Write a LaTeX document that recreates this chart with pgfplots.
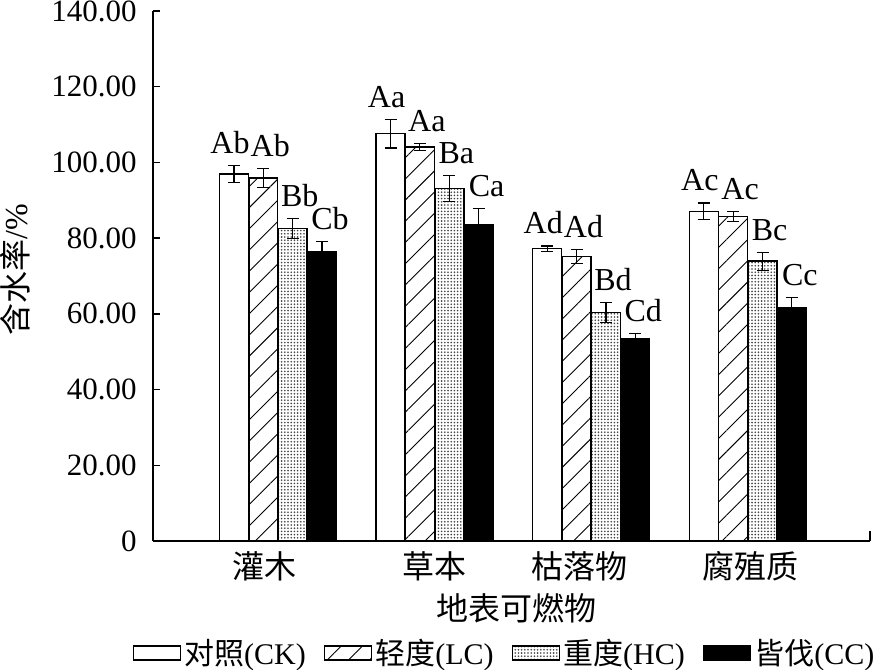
\documentclass[border=0pt]{standalone}
\usepackage{pgfplots}
\pgfplotsset{compat=1.18}
\usepackage{pgfplotstable}
\usetikzlibrary{patterns.meta}
\usepackage{fontspec}
\setmainfont{Liberation Serif}
\newfontfamily\cjk{Noto Sans CJK SC}
\newcommand\ff{\fontsize{16}{19}\selectfont}
\newcommand\tf{\fontsize{15.5}{18}\selectfont}
\newcommand\lf{\fontsize{15}{18}\selectfont}
\pgfplotsset{mylegend/.style={legend image code/.code={\draw[##1] (0pt,-3.5pt) rectangle (23.5pt,3.5pt);}}}

\pgfplotstableread{
x y err lab
0 96.9 2.3 Ab
1 107.6 3.8 Aa
2 77.2 0.75 Ad
3 87.1 2.2 Ac
}\ck
\pgfplotstableread{
x y err lab
0 95.9 2.5 Ab
1 104.1 0.9 Aa
2 75.2 1.9 Ad
3 85.7 1.4 Ac
}\lc
\pgfplotstableread{
x y err lab
0 82.5 2.7 Bb
1 93.1 3.4 Ba
2 60.4 2.6 Bd
3 73.9 2.4 Bc
}\hc
\pgfplotstableread{
x y err lab
0 76.3 2.75 Cb
1 83.5 4.3 Ca
2 53.4 1.4 Cd
3 61.7 2.7 Cc
}\cc

\begin{document}
\begin{tikzpicture}
\begin{axis}[
  scale only axis, width=358.5pt, height=265pt,
  xmin=-0.798, xmax=3.78, ymin=0, ymax=140,
  axis lines=left, axis line style={-, line width=0.9pt},
  ybar=0pt, bar width=0.185,
  xtick={-0.083,1,1.927,3.015}, xticklabels={{\cjk 灌木},{\cjk 草本},{\cjk 枯落物},{\cjk 腐殖质}},
  xtick style={draw=none},
  xticklabel style={font=\ff, anchor=north, inner sep=0pt, yshift=-5pt},
  ytick={0,20,...,140},
  yticklabels={0,20.00,40.00,60.00,80.00,100.00,120.00,140.00},
  yticklabel style={font=\tf, anchor=east, inner sep=0pt, xshift=-8pt},
  tick align=inside, major tick length=3.5pt,
  ytick style={line width=0.7pt, black},
  every axis x label/.style={at={(rel axis cs:0.5,0)}, anchor=center, xshift=2.5pt, yshift=-33.5pt, font=\ff},
  every axis y label/.style={at={(rel axis cs:0,0.5)}, xshift=-69pt, yshift=3pt, rotate=90, anchor=center, font=\ff},
  xlabel={\cjk 地表可燃物},
  ylabel={{\cjk 含水率}/\%},
  legend style={at={(rel axis cs:0.5,0)}, anchor=center, yshift=-56pt, xshift=-3.5pt, draw=none, fill=none,
    legend columns=4, font=\lf, inner sep=0pt, nodes={inner sep=1pt},
    /tikz/every odd column/.append style={column sep=0.5pt},
    /tikz/every even column/.append style={column sep=8pt}},
  error bars/y dir=both, error bars/y explicit,
  error bars/error bar style={line width=0.6pt, black},
  error bars/error mark options={line width=0.6pt, mark size=3pt, black, rotate=90},
  nodes near coords, point meta=explicit symbolic,
  visualization depends on={\thisrow{err}\as\err},
  clip=false,
]
\addplot[draw=black, line width=0.75pt, fill=white, bar shift=-0.281, mylegend,
  nodes near coords style={font=\ff, anchor=south, inner sep=0pt, shift={(axis direction cs:0,\err)}, yshift=5.5pt, xshift=-2pt}]
  table[x=x, y=y, y error=err, meta=lab]{\ck};
\addplot[draw=black, line width=0.75pt, fill=white, bar shift=-0.094, mylegend,
  postaction={pattern={Lines[angle=45, distance=7.5pt, line width=0.45pt]}},
  nodes near coords style={font=\ff, anchor=south, inner sep=0pt, shift={(axis direction cs:0,\err)}, yshift=5.5pt, xshift=3.5pt}]
  table[x=x, y=y, y error=err, meta=lab]{\lc};
\addplot[draw=black, line width=0.75pt, fill=white, bar shift=0.094, mylegend,
  postaction={pattern={Dots[distance=1.6pt, radius=0.45pt]}, pattern color=black!75},
  nodes near coords style={font=\ff, anchor=south, inner sep=0pt, shift={(axis direction cs:0,\err)}, yshift=5.5pt, xshift=3.5pt}]
  table[x=x, y=y, y error=err, meta=lab]{\hc};
\addplot[draw=black, line width=0.75pt, fill=black, bar shift=0.281, mylegend,
  nodes near coords style={font=\ff, anchor=south, inner sep=0pt, shift={(axis direction cs:0,\err)}, yshift=5.5pt, xshift=4pt}]
  table[x=x, y=y, y error=err, meta=lab]{\cc};
\legend{{\cjk 对照}(CK),{\cjk 轻度}(LC),{\cjk 重度}(HC),{\cjk 皆伐}(CC)}
\draw[line width=0.9pt] (rel axis cs:1,0) -- ([yshift=5pt]rel axis cs:1,0);
\coordinate (bl) at (rel axis cs:0,0);
\coordinate (tr) at (rel axis cs:1,1);
\end{axis}
\pgfresetboundingbox
\path ([shift={(-76.5pt,-64pt)}]bl) rectangle ([shift={(8.5pt,5.5pt)}]tr);
\end{tikzpicture}
\end{document}
